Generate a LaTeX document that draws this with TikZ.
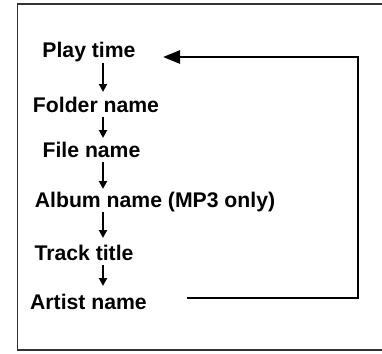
\documentclass[tikz,border=0pt]{standalone}
\usepackage{fontspec}
\setmainfont{Liberation Sans}
\usetikzlibrary{arrows.meta}
\begin{document}
\begin{tikzpicture}[x=1pt,y=-1pt,
  lbl/.style={inner sep=0pt,font=\fontsize{21.2}{23}\selectfont\bfseries},
  down/.style={line width=2pt,-{Triangle[length=8pt,width=8pt]}},
  loop/.style={line width=2.6pt}]
\useasboundingbox (0,0) rectangle (382,353);
\draw[line width=1.4pt,black!80] (382,4) -- (17.5,4) -- (17.5,350) -- (382,350);
\node[lbl] (play) at (89,52) {Play time};
\node[lbl] (folder) at (96,105) {Folder name};
\node[lbl] (file) at (91.5,150) {File name};
\node[lbl] (album) at (155,202) {Album name (MP3 only)};
\node[lbl] (track) at (84,253) {Track title};
\node[lbl] (artist) at (88.5,302) {Artist name};
\draw[down] (103,63) -- (103,92);
\draw[down] (103,117) -- (103,138);
\draw[down] (103,162) -- (103,189);
\draw[down] (103,212) -- (103,238);
\draw[down] (103,265) -- (103,286);
\coordinate (start) at (187,298);
\coordinate (corner) at (358,57);
\coordinate (tip) at (163,57);
\draw[loop,-{Triangle[length=17pt,width=13pt]}] (start) -| (corner) -- (tip);
\end{tikzpicture}
\end{document}
